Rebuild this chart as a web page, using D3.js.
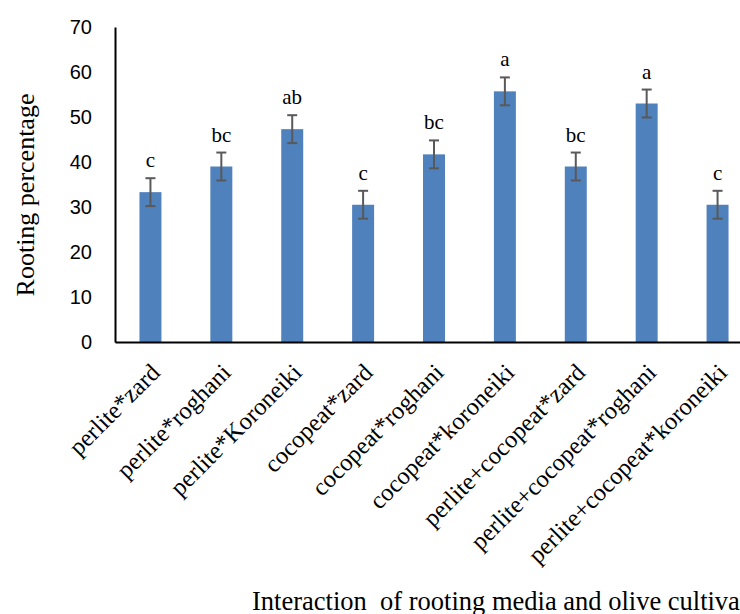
<!DOCTYPE html>
<html>
<head>
<meta charset="utf-8">
<script src="https://cdn.jsdelivr.net/npm/d3@7"></script>
<style>
html, body { margin: 0; padding: 0; background: #fff; }
svg { display: block; }
</style>
</head>
<body>
<script>
const categories = ["perlite*zard", "perlite*roghani", "perlite*Koroneiki", "cocopeat*zard", "cocopeat*roghani", "cocopeat*koroneiki", "perlite+cocopeat*zard", "perlite+cocopeat*roghani", "perlite+cocopeat*koroneiki"];
const rooting = [33.3, 39.0, 47.3, 30.5, 41.7, 55.7, 39.0, 53.0, 30.5];
const errors = [3.1, 3.1, 3.1, 3.1, 3.1, 3.1, 3.1, 3.1, 3.1];
const letters = ["c", "bc", "ab", "c", "bc", "a", "bc", "a", "c"];
const yTicks = [0, 10, 20, 30, 40, 50, 60, 70];
const yTitle = "Rooting percentage";
const xTitle = "Interaction  of rooting media and olive cultivars";

const W = 740, H = 614;
const svg = d3.select("body").append("svg").attr("width", W).attr("height", H);

const x = d3.scaleBand().domain(categories).range([115, 753]).paddingInner(0.69).paddingOuter(0.345);
const y = d3.scaleLinear().domain([0, 70]).range([342, 27]);

// bars
svg.append("g").selectAll("rect").data(categories).join("rect")
  .attr("x", d => x(d))
  .attr("width", x.bandwidth())
  .attr("y", (d, i) => y(rooting[i]))
  .attr("height", (d, i) => y(0) - y(rooting[i]))
  .attr("fill", "#4f81bd");

// error bars
const eg = svg.append("g").attr("stroke", "#595959").attr("stroke-width", 2);
categories.forEach((c, i) => {
  const cx = x(c) + x.bandwidth() / 2;
  const t = y(rooting[i] + errors[i]), b = y(rooting[i] - errors[i]);
  eg.append("line").attr("x1", cx).attr("x2", cx).attr("y1", t).attr("y2", b);
  eg.append("line").attr("x1", cx - 5).attr("x2", cx + 5).attr("y1", t).attr("y2", t);
  eg.append("line").attr("x1", cx - 5).attr("x2", cx + 5).attr("y1", b).attr("y2", b);
});

// letters
svg.append("g").selectAll("text").data(categories).join("text")
  .attr("x", d => x(d) + x.bandwidth() / 2)
  .attr("y", (d, i) => y(rooting[i] + errors[i]) - 11)
  .attr("text-anchor", "middle")
  .attr("font-family", "'Liberation Serif', 'Times New Roman', serif")
  .attr("font-size", 21)
  .attr("fill", "#000")
  .text((d, i) => letters[i]);

// y axis
const yAxis = d3.axisLeft(y).tickValues(yTicks).tickSize(0).tickPadding(23);
const yg = svg.append("g").attr("transform", "translate(115,0)").call(yAxis);
yg.select(".domain").attr("stroke", "#000").attr("stroke-width", 2);
yg.selectAll("text").attr("font-family", "'Liberation Sans', Arial, sans-serif").attr("font-size", 20).attr("fill", "#000");

// x axis
const xAxis = d3.axisBottom(x).tickSize(0).tickFormat("");
const xg = svg.append("g").attr("transform", "translate(0,342)").call(xAxis);
xg.select(".domain").attr("stroke", "#000").attr("stroke-width", 2);

// rotated category labels
svg.append("g").selectAll("text").data(categories).join("text")
  .attr("transform", d => `translate(${x(d) + x.bandwidth() / 2 + 11},374) rotate(-45)`)
  .attr("text-anchor", "end")
  .attr("font-family", "'Liberation Serif', 'Times New Roman', serif")
  .attr("font-size", 24.5)
  .attr("fill", "#000")
  .text(d => d);

// axis titles
svg.append("text")
  .attr("transform", "translate(34,195) rotate(-90)")
  .attr("text-anchor", "middle")
  .attr("font-family", "'Liberation Serif', 'Times New Roman', serif")
  .attr("font-size", 26)
  .attr("fill", "#000")
  .text(yTitle);

svg.append("text")
  .attr("x", 252).attr("y", 610)
  .attr("font-family", "'Liberation Serif', 'Times New Roman', serif")
  .attr("font-size", 26.5)
  .attr("fill", "#000")
  .style("white-space", "pre")
  .text(xTitle);
</script>
</body>
</html>
